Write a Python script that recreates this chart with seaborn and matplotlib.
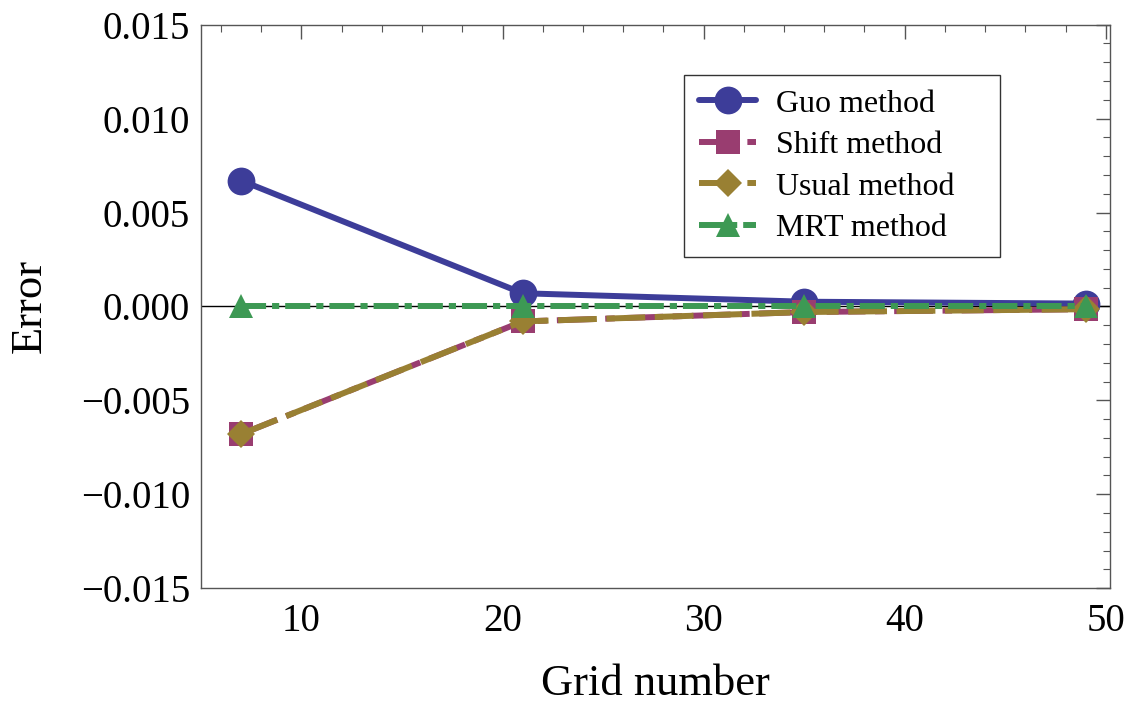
import matplotlib
matplotlib.use("Agg")
import matplotlib.pyplot as plt
from matplotlib.ticker import MultipleLocator, FuncFormatter
import seaborn as sns
import pandas as pd

# Grid sizes and errors of each scheme
grid = [7, 21, 35, 49]
guo = [0.0067, 0.0007, 0.00025, 0.00015]
shift = [-0.0068, -0.0008, -0.0003, -0.00015]
usual = [-0.0068, -0.0008, -0.0003, -0.00015]
mrt = [0.0, 0.0, 0.0, 0.0]

series_names = ["Guo method", "Shift method", "Usual method", "MRT method"]
series_values = [guo, shift, usual, mrt]
colors = ["#3d3d99", "#993d70", "#998033", "#3d9954"]
markers = ["o", "s", "D", "^"]
msizes = [20, 17, 14, 17]
dashes = [
    (None, None),
    (6.5, 1.6, 1.6, 1.6),
    (6.5, 1.6),
    (4.2, 1.0, 1.2, 1.0),
]

sns.set_theme(style="white")
plt.rcParams["font.family"] = ["Liberation Serif", "DejaVu Serif"]
plt.rcParams["text.color"] = "black"
plt.rcParams["axes.labelcolor"] = "black"
plt.rcParams["xtick.labelcolor"] = "black"
plt.rcParams["ytick.labelcolor"] = "black"

fig = plt.figure(figsize=(11.29, 7.06), dpi=100)
ax = fig.add_axes([0.178, 0.167, 0.805, 0.798])

# Zero reference line
ax.axhline(0, color="black", lw=1.0, zorder=1)

for name, vals, c, m, ms, d in zip(series_names, series_values, colors, markers, msizes, dashes):
    df = pd.DataFrame({"grid": grid, "err": vals})
    sns.lineplot(data=df, x="grid", y="err", ax=ax, color=c, lw=4.3,
                 marker=m, markersize=ms, markeredgewidth=0, label=name,
                 zorder=3)
    line = ax.lines[-1]
    if d[0] is not None:
        line.set_dashes(d)

ax.set_xlim(5, 50.2)
ax.set_ylim(-0.015, 0.015)
ax.xaxis.set_major_locator(MultipleLocator(10))
ax.xaxis.set_minor_locator(MultipleLocator(2))
ax.yaxis.set_major_locator(MultipleLocator(0.005))
ax.yaxis.set_minor_locator(MultipleLocator(0.001))


def yfmt(v, pos):
    s = f"{abs(v):.3f}"
    return ("\u2212" + s) if v < -1e-12 else s


ax.yaxis.set_major_formatter(FuncFormatter(yfmt))
ax.tick_params(which="both", direction="in", top=True, right=True,
               labelsize=28, color="#555555")
ax.tick_params(which="major", length=10, width=1.0)
ax.tick_params(which="minor", length=5, width=0.8)
ax.tick_params(axis="x", pad=11)
ax.tick_params(axis="y", pad=8)
for s in ax.spines.values():
    s.set_color("#555555")
    s.set_linewidth(1.0)

ax.set_xlabel("Grid number", fontsize=32, labelpad=17)
ax.set_ylabel("Error", fontsize=32, labelpad=22)

leg = ax.legend(loc="upper left", bbox_to_anchor=(0.532, 0.911, 0.347, 0.0),
                mode="expand", fontsize=23,
                frameon=True, fancybox=False, edgecolor="black",
                handlelength=1.8, handletextpad=0.6, borderpad=0.45,
                labelspacing=0.38, borderaxespad=0)
leg.get_frame().set_linewidth(1.0)

fig.savefig("out.png", dpi=100)
